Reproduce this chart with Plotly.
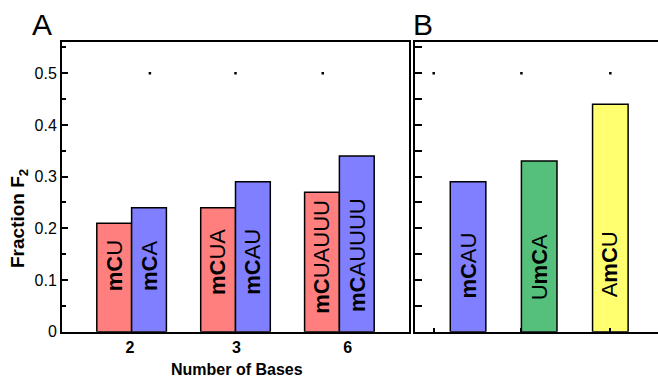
import plotly.graph_objects as go

# Panel A: fraction F2 vs. number of bases, two probe families
group_pos = [1, 2, 3]
base_labels = ["2", "3", "6"]
mcu_labels = ["mCU", "mCUA", "mCUAUUU"]
mcu_values = [0.21, 0.24, 0.27]
mca_labels = ["mCA", "mCAU", "mCAUUUU"]
mca_values = [0.24, 0.29, 0.34]

# Panel B: trinucleotide comparison
b_pos = [1, 2, 3]
b_labels = ["mCAU", "UmCA", "AmCU"]
b_values = [0.29, 0.33, 0.44]

# Small reference dots along the 0.5 line
dots_a_x = [1.176, 2.0, 2.84]
dots_b_x = [0.517, 1.75, 3.0]
dot_y = 0.5

RED = "#FF7F7F"
BLUE = "#7F7FFF"
GREEN = "#55C07B"
YELLOW = "#FFFF70"
FONT = "Liberation Sans, Arial, sans-serif"

W, H = 658, 378
BAR_W_A = 0.335
BAR_W_B = 0.5

def px_x(p):
    return p / W

def px_y(p):
    return 1 - p / H

fig = go.Figure()

fig.add_trace(go.Bar(x=group_pos, y=mcu_values, width=BAR_W_A, offset=-BAR_W_A,
                     marker=dict(color=RED, line=dict(color="black", width=1.5)),
                     xaxis="x", yaxis="y", showlegend=False))
fig.add_trace(go.Bar(x=group_pos, y=mca_values, width=BAR_W_A, offset=0,
                     marker=dict(color=BLUE, line=dict(color="black", width=1.5)),
                     xaxis="x", yaxis="y", showlegend=False))
fig.add_trace(go.Bar(x=b_pos, y=b_values, width=BAR_W_B,
                     marker=dict(color=[BLUE, GREEN, YELLOW], line=dict(color="black", width=1.5)),
                     xaxis="x2", yaxis="y2", showlegend=False))

fig.add_trace(go.Scatter(x=dots_a_x, y=[dot_y] * len(dots_a_x), mode="markers",
                         marker=dict(symbol="square", size=2.5, color="black"),
                         xaxis="x", yaxis="y", showlegend=False))
fig.add_trace(go.Scatter(x=dots_b_x, y=[dot_y] * len(dots_b_x), mode="markers",
                         marker=dict(symbol="square", size=2.5, color="black"),
                         xaxis="x2", yaxis="y2", showlegend=False))

def rich(name):
    # "mC" set in bold, the rest of the sequence in regular weight
    i = name.index("mC")
    return name[:i] + "<b>mC</b>" + name[i + 2:]

# vertical labels inside bars (center heights in data units)
label_mid_a1 = [0.127, 0.135, 0.145]
label_mid_a2 = [0.127, 0.135, 0.148]
label_mid_b = [0.128, 0.125, 0.131]

bar_font = dict(size=22, family=FONT, color="black")
annotations = []
for p, lab, ym in zip(group_pos, mcu_labels, label_mid_a1):
    annotations.append(dict(x=p - BAR_W_A / 2, y=ym, xref="x", yref="y", text=rich(lab),
                            xanchor="center", yanchor="middle",
                            textangle=-90, showarrow=False, font=bar_font))
for p, lab, ym in zip(group_pos, mca_labels, label_mid_a2):
    annotations.append(dict(x=p + BAR_W_A / 2, y=ym, xref="x", yref="y", text=rich(lab),
                            xanchor="center", yanchor="middle",
                            textangle=-90, showarrow=False, font=bar_font))
for p, lab, ym in zip(b_pos, b_labels, label_mid_b):
    annotations.append(dict(x=p, y=ym, xref="x2", yref="y2", text=rich(lab),
                            xanchor="center", yanchor="middle",
                            textangle=-90, showarrow=False, font=bar_font))

annotations += [
    dict(text="A", x=px_x(42), y=px_y(24), xref="paper", yref="paper", showarrow=False,
         xanchor="center", yanchor="middle", font=dict(size=30, family=FONT, color="black")),
    dict(text="B", x=px_x(423), y=px_y(24), xref="paper", yref="paper", showarrow=False,
         xanchor="center", yanchor="middle", font=dict(size=30, family=FONT, color="black")),
    dict(text="<b>Fraction F<sub>2</sub></b>", x=px_x(19), y=px_y(219), xref="paper", yref="paper",
         xanchor="center", yanchor="middle",
         textangle=-90, showarrow=False, font=dict(size=19, family=FONT, color="black")),
    dict(text="<b>Number of Bases</b>", x=px_x(237), y=px_y(369), xref="paper", yref="paper",
         xanchor="center", yanchor="middle",
         showarrow=False, font=dict(size=16, family=FONT, color="black")),
]

y_dom = [px_y(331.7), px_y(41.7)]
axis_common = dict(showline=True, linecolor="black", linewidth=2, showgrid=False,
                   zeroline=False, automargin=False)

fig.update_layout(
    template="none",
    width=W, height=H,
    margin=dict(l=0, r=0, t=0, b=0, pad=0),
    paper_bgcolor="white", plot_bgcolor="white",
    font=dict(family=FONT, color="black"),
    barmode="overlay",
    annotations=annotations,
    xaxis=dict(domain=[px_x(62), px_x(409)], range=[0.33, 3.67], mirror=True,
               tickvals=[0.985, 2.01, 3.08], ticktext=base_labels, ticks="",
               tickfont=dict(size=16, family=FONT, weight="bold"), anchor="y", **axis_common),
    yaxis=dict(domain=y_dom, range=[0, 0.561], mirror=True, anchor="x",
               tickvals=[0, 0.1, 0.2, 0.3, 0.4, 0.5], ticktext=["0", "0.1", "0.2", "0.3", "0.4", "0.5"],
               ticks="inside", ticklen=6, tickwidth=2, tickcolor="black",
               minor=dict(tickvals=[0.05, 0.15, 0.25, 0.35, 0.45, 0.55], ticks="inside", ticklen=4,
                          tickwidth=2, tickcolor="black", showgrid=False),
               tickfont=dict(size=16, family=FONT), **axis_common),
    xaxis2=dict(domain=[px_x(415), 1.0], range=[0.254, 3.67], mirror=True, anchor="y2",
                tickvals=dots_b_x, ticks="inside", ticklen=4, tickwidth=2, tickcolor="black",
                showticklabels=False, **axis_common),
    yaxis2=dict(domain=y_dom, range=[0, 0.561], mirror=False, anchor="x2",
                tickvals=[0.05 * i for i in range(12)], ticks="inside", ticklen=7, tickwidth=2,
                tickcolor="black", showticklabels=False, **axis_common),
)

fig.write_html("out.html")
